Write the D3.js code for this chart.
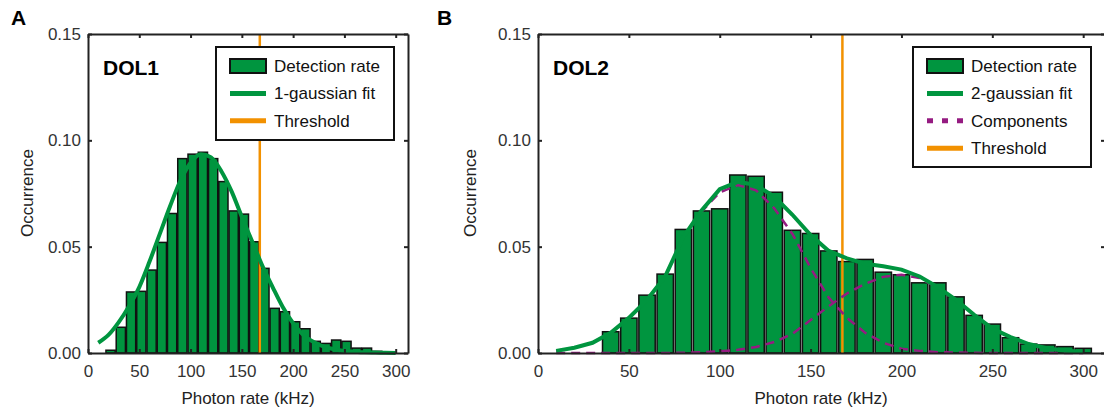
<!DOCTYPE html>
<html>
<head>
<meta charset="utf-8">
<script src="https://cdn.jsdelivr.net/npm/d3@7"></script>
<style>
  body { margin: 0; background: #fff; }
  svg { display: block; font-family: "Liberation Sans", Arial, sans-serif; }
  .tick text { fill: #333; font-size: 17px; }
  .domain, .tick line { stroke: #222; stroke-width: 2; }
</style>
</head>
<body>
<div id="chart"></div>
<script>
// ---- data ----
const xTicks = [0, 50, 100, 150, 200, 250, 300]
const yTicks = [0, 0.05, 0.10, 0.15]
const threshold = 167.5

// panel A : DOL1
const dol1BinCenters = [22, 32, 42, 52, 62, 72, 82, 92, 102, 112, 122, 132, 142, 152,
  162, 172, 182, 192, 202, 212, 222, 232, 242, 252, 262, 272, 282, 292]
const dol1Rates = [0.0013, 0.0121, 0.0287, 0.029, 0.039, 0.052, 0.0656, 0.0914, 0.0935, 0.0944,
  0.0914, 0.0806, 0.0668, 0.0653, 0.0523, 0.0398, 0.021, 0.0194, 0.0147, 0.0114,
  0.0055, 0.0045, 0.0061, 0.0055, 0.0023, 0.0023, 0.0008, 0.0005]
const dol1FitX = [10, 20, 30, 40, 50, 60, 70, 80, 90, 100, 110, 120, 130, 140, 150,
  160, 170, 180, 190, 200, 210, 220, 230, 240, 250, 260, 270, 280, 290, 300]
const dol1Fit = [0.0048, 0.0085, 0.0145, 0.022, 0.031, 0.043, 0.056, 0.069, 0.081, 0.0895,
  0.0935, 0.092, 0.0855, 0.076, 0.064, 0.0525, 0.041, 0.031, 0.0215, 0.014,
  0.0085, 0.0052, 0.003, 0.0018, 0.001, 0.0006, 0.0003, 0.0002, 0.0001, 0]

// panel B : DOL2
const dol2BinCenters = [40, 50, 60, 70, 80, 90, 100, 110, 120, 130, 140, 150, 160, 170,
  180, 190, 200, 210, 220, 230, 240, 250, 260, 270, 280, 290, 300]
const dol2Rates = [0.0100, 0.0164, 0.0272, 0.0371, 0.0581, 0.0668, 0.0678, 0.0837, 0.0831, 0.0756,
  0.0577, 0.0562, 0.048, 0.043, 0.044, 0.038, 0.0368, 0.033, 0.033, 0.0264,
  0.0177, 0.0136, 0.0072, 0.0042, 0.0038, 0.003, 0.0022]
const dol2FitX = [10, 20, 30, 40, 50, 60, 70, 80, 90, 100, 110, 120, 130, 140, 150,
  160, 170, 180, 190, 200, 210, 220, 230, 240, 250, 260, 270, 280, 290, 300]
const dol2Fit = [0.001, 0.0025, 0.0048, 0.0095, 0.0165, 0.025, 0.036, 0.0545, 0.067, 0.077,
  0.0805, 0.079, 0.0735, 0.065, 0.0555, 0.048, 0.0445, 0.042, 0.0408, 0.0392,
  0.036, 0.031, 0.025, 0.018, 0.0115, 0.0075, 0.0042, 0.0022, 0.0011, 0.0006]
const dol2Comp1 = [0.001, 0.0025, 0.0048, 0.0095, 0.0165, 0.025, 0.036, 0.0545, 0.0665, 0.0755,
  0.079, 0.0765, 0.068, 0.056, 0.04, 0.026, 0.0165, 0.0095, 0.0048, 0.002,
  0.001, 0.0004, 0.0002, 0.0001, 0, 0, 0, 0, 0, 0]
const dol2Comp2 = [0, 0, 0, 0, 0, 0, 0, 0.0001, 0.0004, 0.0008,
  0.0015, 0.0028, 0.0052, 0.009, 0.0155, 0.022, 0.028, 0.0325, 0.0358, 0.0368,
  0.0352, 0.0308, 0.025, 0.018, 0.0115, 0.0075, 0.0042, 0.0022, 0.0011, 0.0006]

const green = "#00953f"
const orange = "#f29100"
const purple = "#951b81"

const svg = d3.select("#chart").append("svg")
  .attr("width", 1104)
  .attr("height", 411)

const drawPanel = (cfg) => {
  const x = d3.scaleLinear().domain([0, 312]).range([cfg.left, cfg.right])
  const y = d3.scaleLinear().domain([0, 0.15]).range([353, 34])
  const g = svg.append("g")

  // bars
  const binW = 10
  g.selectAll(".bar")
    .data(cfg.centers.map((c, i) => ({ c, v: cfg.rates[i] })))
    .join("rect")
    .attr("class", "bar")
    .attr("x", d => x(d.c - binW * 0.45))
    .attr("width", x(binW * 0.9) - x(0))
    .attr("y", d => y(d.v))
    .attr("height", d => y(0) - y(d.v))
    .attr("fill", green)
    .attr("stroke", "#111")
    .attr("stroke-width", 1.5)

  // threshold
  g.append("line")
    .attr("x1", x(threshold)).attr("x2", x(threshold))
    .attr("y1", y(0.15)).attr("y2", y(0))
    .attr("stroke", orange)
    .attr("stroke-width", 2.5)

  // components
  if (cfg.comps) {
    const cl = d3.line().x((d, i) => x(cfg.fitX[i])).y(d => y(d))
    cfg.comps.forEach(c => {
      g.append("path")
        .attr("d", cl(c))
        .attr("fill", "none")
        .attr("stroke", purple)
        .attr("stroke-width", 2.5)
        .attr("stroke-dasharray", "9,6")
    })
  }

  // fit
  const fl = d3.line().x((d, i) => x(cfg.fitX[i])).y(d => y(d)).curve(cfg.curve)
  g.append("path")
    .attr("d", fl(cfg.fit))
    .attr("fill", "none")
    .attr("stroke", green)
    .attr("stroke-width", 4)

  // axes, ticks inward on all sides
  g.append("g").attr("transform", "translate(0,353)")
    .call(d3.axisBottom(x).tickValues(xTicks).tickSizeInner(-4).tickSizeOuter(0).tickPadding(12))
  g.append("g").attr("transform", "translate(0,34)")
    .call(d3.axisTop(x).tickValues(xTicks).tickSizeInner(-4).tickSizeOuter(0).tickFormat(""))
  g.append("g").attr("transform", `translate(${cfg.left},0)`)
    .call(d3.axisLeft(y).tickValues(yTicks).tickSizeInner(-4).tickSizeOuter(0).tickPadding(7)
      .tickFormat(d3.format(".2f")))
  g.append("g").attr("transform", `translate(${cfg.right},0)`)
    .call(d3.axisRight(y).tickValues(yTicks).tickSizeInner(-4).tickSizeOuter(0).tickFormat(""))
  g.selectAll(".tick text").style("font-size", "17px")

  // labels
  g.append("text")
    .attr("x", (cfg.left + Math.min(cfg.right, 1104)) / 2).attr("y", 404)
    .attr("text-anchor", "middle").attr("font-size", 17).attr("fill", "#222")
    .text("Photon rate (kHz)")
  g.append("text")
    .attr("transform", `translate(${cfg.yLabelX},193) rotate(-90)`)
    .attr("text-anchor", "middle").attr("font-size", 17).attr("fill", "#222")
    .text("Occurrence")
  g.append("text")
    .attr("x", cfg.letterX).attr("y", 25)
    .attr("font-size", 21).attr("font-weight", "bold")
    .text(cfg.letter)
  g.append("text")
    .attr("x", cfg.left + 15).attr("y", 75)
    .attr("font-size", 21).attr("font-weight", "bold")
    .text(cfg.title)

  // legend
  const lg = g.append("g")
  lg.append("rect")
    .attr("x", cfg.legend.x).attr("y", 47)
    .attr("width", cfg.legend.w).attr("height", cfg.legend.h)
    .attr("fill", "#fff").attr("stroke", "#111").attr("stroke-width", 2)
  cfg.legend.items.forEach((item, i) => {
    const cy = 66 + i * 27.4
    const px = cfg.legend.x + 14
    if (item.type === "patch") {
      lg.append("rect").attr("x", px).attr("y", cy - 7).attr("width", 36).attr("height", 14)
        .attr("fill", green).attr("stroke", "#111").attr("stroke-width", 2)
    } else {
      lg.append("line").attr("x1", px).attr("x2", px + 36).attr("y1", cy).attr("y2", cy)
        .attr("stroke", item.color).attr("stroke-width", 5)
        .attr("stroke-dasharray", item.dash || null)
    }
    lg.append("text").attr("x", px + 44).attr("y", cy + 6)
      .attr("font-size", 17).attr("fill", "#111")
      .text(item.label)
  })
}

drawPanel({
  left: 88, right: 408, letter: "A", letterX: 11, title: "DOL1", yLabelX: 33,
  centers: dol1BinCenters, rates: dol1Rates, fitX: dol1FitX, fit: dol1Fit,
  curve: d3.curveMonotoneX,
  legend: { x: 216, w: 178, h: 93, items: [
    { type: "patch", label: "Detection rate" },
    { type: "line", color: green, label: "1-gaussian fit" },
    { type: "line", color: orange, label: "Threshold" }
  ] }
})

drawPanel({
  left: 538, right: 1105, letter: "B", letterX: 437, title: "DOL2", yLabelX: 476,
  centers: dol2BinCenters, rates: dol2Rates, fitX: dol2FitX, fit: dol2Fit,
  comps: [dol2Comp1, dol2Comp2], curve: d3.curveLinear,
  legend: { x: 913, w: 178, h: 120, items: [
    { type: "patch", label: "Detection rate" },
    { type: "line", color: green, label: "2-gaussian fit" },
    { type: "line", color: purple, label: "Components", dash: "6,9" },
    { type: "line", color: orange, label: "Threshold" }
  ] }
})
</script>
</body>
</html>
